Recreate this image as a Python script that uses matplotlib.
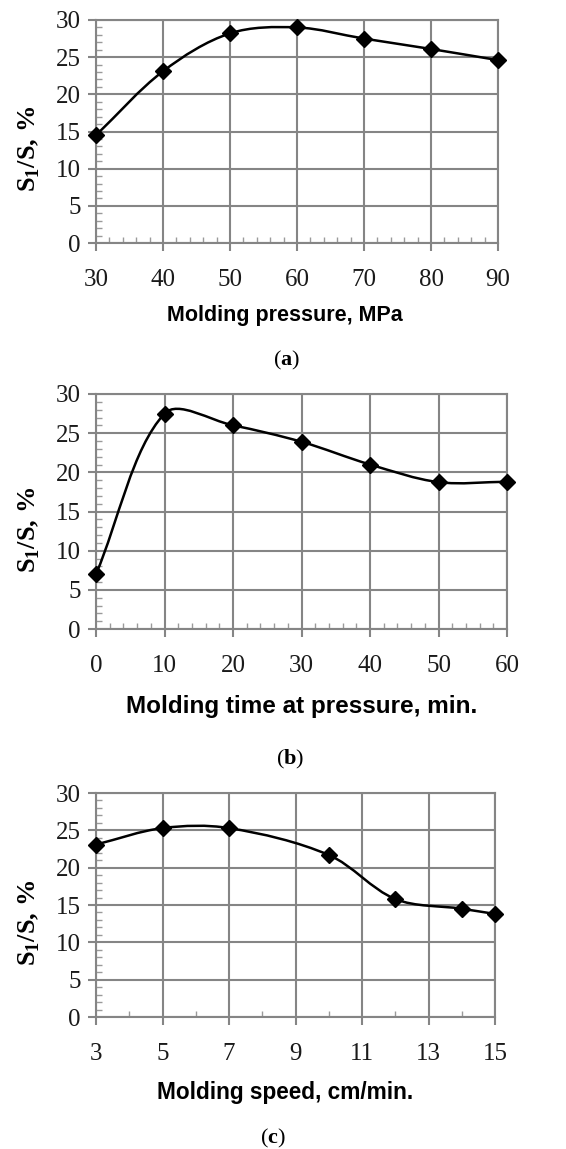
import numpy as np
import matplotlib.pyplot as plt
from matplotlib.path import Path
from matplotlib.patches import PathPatch
from matplotlib.ticker import MultipleLocator, FixedLocator

plt.rcParams['font.family'] = 'Liberation Serif'
plt.rcParams['mathtext.fontset'] = 'custom'
plt.rcParams['mathtext.rm'] = 'Liberation Serif:bold'
plt.rcParams['mathtext.bf'] = 'Liberation Serif:bold'

# data
pressure = [30, 40, 50, 60, 70, 80, 90]
ratio_pressure = [14.5, 23.1, 28.2, 29.0, 27.5, 26.1, 24.6]

press_time = [0, 10, 20, 30, 40, 50, 60]
ratio_time = [7.0, 27.5, 26.0, 23.9, 21.0, 18.75, 18.8]

speed = [3, 5, 7, 10, 12, 14, 15]
ratio_speed = [23.1, 25.3, 25.3, 21.7, 15.8, 14.5, 13.8]

x_ticks = [list(range(30, 91, 10)), list(range(0, 61, 10)), list(range(3, 16, 2))]
x_labels = ['Molding pressure, MPa',
            'Molding time at pressure, min.',
            'Molding speed, cm/min.']
captions = ['a', 'b', 'c']

W, H = 566, 1149
GRID = '#858585'


def smooth_path(ax, x, y):
    """Excel-like smoothed line, built as cubic Bezier segments in screen space"""
    pts = ax.transData.transform(np.column_stack([x, y]))
    p = np.vstack([pts[0], pts, pts[-1]])
    verts = [pts[0]]
    codes = [Path.MOVETO]
    for i in range(1, len(p) - 2):
        d0 = np.hypot(*(p[i] - p[i - 1]))
        d1 = np.hypot(*(p[i + 1] - p[i]))
        d2 = np.hypot(*(p[i + 2] - p[i + 1]))
        s1 = d1 / (d0 + d1) if d0 + d1 > 0 else 0.5
        s2 = d1 / (d1 + d2) if d1 + d2 > 0 else 0.5
        c1 = p[i] + (p[i + 1] - p[i - 1]) * s1 / 3
        c2 = p[i + 1] - (p[i + 2] - p[i]) * s2 / 3
        verts += [c1, c2, p[i + 1]]
        codes += [Path.CURVE4] * 3
    verts = ax.transData.inverted().transform(np.array(verts))
    return Path(verts, codes)


def px_rect(left, top, right, bottom):
    return [left / W, 1 - bottom / H, (right - left) / W, (bottom - top) / H]


fig = plt.figure(figsize=(W / 100, H / 100), dpi=100)

panels = [
    dict(rect=px_rect(96, 20, 498, 243), x=pressure, y=ratio_pressure,
         minor=2, xl_y=316, xl_x=285, xl_fs=15.5, cap_y=360, cap_x=287),
    dict(rect=px_rect(96, 394, 507, 629), x=press_time, y=ratio_time,
         minor=2, xl_y=707, xl_x=302, xl_fs=17.5, cap_y=759, cap_x=290),
    dict(rect=px_rect(96, 793, 495, 1017), x=speed, y=ratio_speed,
         minor=1, xl_y=1092, xl_x=285, xl_fs=16.3, cap_y=1138, cap_x=273),
]

for p, ticks, xl, cap in zip(panels, x_ticks, x_labels, captions):
    ax = fig.add_axes(p['rect'])
    ax.set_xlim(ticks[0], ticks[-1])
    ax.set_ylim(0, 30)
    ax.xaxis.set_major_locator(FixedLocator(ticks))
    ax.xaxis.set_minor_locator(MultipleLocator(p['minor']))
    ax.yaxis.set_major_locator(MultipleLocator(5))
    ax.yaxis.set_minor_locator(MultipleLocator(1))

    ax.grid(True, which='major', color=GRID, linewidth=1.5)
    ax.set_axisbelow(True)
    for s in ax.spines.values():
        s.set_color(GRID)
        s.set_linewidth(1.5)

    ax.tick_params(which='major', direction='out', length=6, width=1.5,
                   color=GRID, labelsize=18, labelcolor='#1a1a1a')
    ax.tick_params(axis='x', which='major', pad=13)
    ax.tick_params(axis='y', which='major', pad=5)
    ax.tick_params(which='minor', direction='in', length=4.5, width=1.0,
                   color='#9a9a9a')

    ax.add_patch(PathPatch(smooth_path(ax, p['x'], p['y']), facecolor='none',
                           edgecolor='black', linewidth=1.8, zorder=3))
    ax.plot(p['x'], p['y'], linestyle='none', marker='D', markersize=8.5,
            color='black', zorder=4, clip_on=False)

    ax.set_ylabel('S$_1$/S, %', fontsize=19, fontweight='bold')
    ax.yaxis.set_label_coords(-54 / (p['rect'][2] * W), 0.42)

    fig.text(p['xl_x'] / W, 1 - p['xl_y'] / H, xl, family='Liberation Sans',
             fontweight='bold', fontsize=p['xl_fs'], ha='center', va='center')
    fig.text(p['cap_x'] / W, 1 - p['cap_y'] / H, '($\\mathbf{%s}$)' % cap,
             family='Liberation Serif', fontsize=16, ha='center', va='center')

fig.savefig('out.png', dpi=100, facecolor='white')
